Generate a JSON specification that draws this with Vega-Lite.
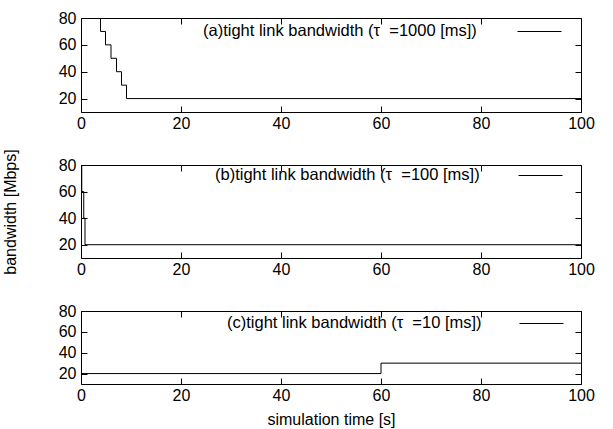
{
  "$schema": "https://vega.github.io/schema/vega-lite/v6.json",
  "padding": {"left": 1, "top": 9, "right": 5, "bottom": 0},
  "config": {
    "font": "Liberation Sans",
    "view": {"stroke": "#000", "strokeWidth": 1},
    "axis": {"labelFont": "Liberation Sans", "labelFontSize": 16, "labelColor": "#000", "titleFont": "Liberation Sans", "titleFontSize": 16, "titleFontWeight": "normal", "titleColor": "#000", "grid": false, "domain": false, "tickColor": "#000", "tickSize": -6, "labelFlush": false},
    "axisX": {"labelPadding": 9},
    "axisY": {"labelPadding": 11},
    "legend": {"padding": 0, "titleFont": "Liberation Sans", "titleFontSize": 16.5, "titleFontWeight": "normal", "titleColor": "#000", "titleOrient": "left", "titleAnchor": "middle", "titleBaseline": "middle", "titleLimit": 600, "symbolType": "M-11,0H11", "symbolSize": 16, "symbolStrokeWidth": 1, "symbolStrokeColor": "#000", "symbolFillColor": "transparent", "labelExpr": "''", "labelFontSize": 1, "labelOpacity": 0, "labelOffset": 0, "orient": "none"}
  },
  "datasets": {
    "bw": [
      {"panel": "a", "series": "a", "t": 0, "v": 110},
      {"panel": "a", "series": "a", "t": 3.9, "v": 70},
      {"panel": "a", "series": "a", "t": 4.9, "v": 60},
      {"panel": "a", "series": "a", "t": 6.0, "v": 50},
      {"panel": "a", "series": "a", "t": 7.1, "v": 40},
      {"panel": "a", "series": "a", "t": 8.1, "v": 30},
      {"panel": "a", "series": "a", "t": 9.1, "v": 20},
      {"panel": "a", "series": "a", "t": 100, "v": 20},
      {"panel": "b", "series": "b", "t": 0, "v": 110},
      {"panel": "b", "series": "b", "t": 0.15, "v": 60},
      {"panel": "b", "series": "b", "t": 0.55, "v": 40},
      {"panel": "b", "series": "b", "t": 0.8, "v": 20},
      {"panel": "b", "series": "b", "t": 100, "v": 20},
      {"panel": "c", "series": "c", "t": 0, "v": 20},
      {"panel": "c", "series": "c", "t": 60, "v": 30},
      {"panel": "c", "series": "c", "t": 100, "v": 30}
    ]
  },
  "vconcat": [
    {
      "width": 500, "height": 94,
      "data": {"name": "bw"},
      "transform": [{"filter": "datum.panel == 'a'"}],
      "layer": [
        {"mark": {"type": "line", "strokeWidth": 1, "interpolate": "step-after", "clip": true}, "encoding": {
          "x": {"field": "t", "type": "quantitative", "scale": {"domain": [0, 100], "nice": false}, "axis": {"values": [0, 20, 40, 60, 80, 100], "title": null, "orient": "bottom"}},
          "y": {"field": "v", "type": "quantitative", "scale": {"domain": [10, 80], "nice": false, "zero": false}, "axis": {"values": [20, 40, 60, 80], "title": null, "orient": "left"}},
          "color": {"field": "series", "type": "nominal", "scale": {"range": ["#000"]}, "legend": {"title": "(a)tight link bandwidth (τ\u00a0 =1000 [ms])", "legendX": 122, "legendY": 11, "titlePadding": 60}}
        }},
        {"mark": {"type": "line", "opacity": 0, "clip": true}, "encoding": {
          "x": {"field": "t", "type": "quantitative", "scale": {"domain": [0, 100], "nice": false}, "axis": {"values": [0, 20, 40, 60, 80, 100], "title": null, "orient": "top", "labels": false}},
          "y": {"field": "v", "type": "quantitative", "scale": {"domain": [10, 80], "nice": false, "zero": false}, "axis": {"values": [20, 40, 60, 80], "title": null, "orient": "right", "labels": false}}
        }}
      ],
      "resolve": {"axis": {"x": "independent", "y": "independent"}}
    },
    {
      "width": 500, "height": 93,
      "data": {"name": "bw"},
      "transform": [{"filter": "datum.panel == 'b'"}],
      "layer": [
        {"mark": {"type": "line", "strokeWidth": 1, "interpolate": "step-after", "clip": true}, "encoding": {
          "x": {"field": "t", "type": "quantitative", "scale": {"domain": [0, 100], "nice": false}, "axis": {"values": [0, 20, 40, 60, 80, 100], "title": null, "orient": "bottom"}},
          "y": {"field": "v", "type": "quantitative", "scale": {"domain": [10, 80], "nice": false, "zero": false}, "axis": {"values": [20, 40, 60, 80], "title": "bandwidth [Mbps]", "titlePadding": 40, "orient": "left"}},
          "color": {"field": "series", "type": "nominal", "scale": {"range": ["#000"]}, "legend": {"title": "(b)tight link bandwidth (τ\u00a0 =100 [ms])", "legendX": 134, "legendY": 8, "titlePadding": 58}}
        }},
        {"mark": {"type": "line", "opacity": 0, "clip": true}, "encoding": {
          "x": {"field": "t", "type": "quantitative", "scale": {"domain": [0, 100], "nice": false}, "axis": {"values": [0, 20, 40, 60, 80, 100], "title": null, "orient": "top", "labels": false}},
          "y": {"field": "v", "type": "quantitative", "scale": {"domain": [10, 80], "nice": false, "zero": false}, "axis": {"values": [20, 40, 60, 80], "title": null, "orient": "right", "labels": false}}
        }}
      ],
      "resolve": {"axis": {"x": "independent", "y": "independent"}}
    },
    {
      "width": 500, "height": 73,
      "data": {"name": "bw"},
      "transform": [{"filter": "datum.panel == 'c'"}],
      "layer": [
        {"mark": {"type": "line", "strokeWidth": 1, "interpolate": "step-after", "clip": true}, "encoding": {
          "x": {"field": "t", "type": "quantitative", "scale": {"domain": [0, 100], "nice": false}, "axis": {"values": [0, 20, 40, 60, 80, 100], "title": "simulation time [s]", "titlePadding": 8, "orient": "bottom"}},
          "y": {"field": "v", "type": "quantitative", "scale": {"domain": [10, 80], "nice": false, "zero": false}, "axis": {"values": [20, 40, 60, 80], "title": null, "orient": "left"}},
          "color": {"field": "series", "type": "nominal", "scale": {"range": ["#000"]}, "legend": {"title": "(c)tight link bandwidth (τ\u00a0 =10 [ms])", "legendX": 146, "legendY": 10, "titlePadding": 57}}
        }},
        {"mark": {"type": "line", "opacity": 0, "clip": true}, "encoding": {
          "x": {"field": "t", "type": "quantitative", "scale": {"domain": [0, 100], "nice": false}, "axis": {"values": [0, 20, 40, 60, 80, 100], "title": null, "orient": "top", "labels": false}},
          "y": {"field": "v", "type": "quantitative", "scale": {"domain": [10, 80], "nice": false, "zero": false}, "axis": {"values": [20, 40, 60, 80], "title": null, "orient": "right", "labels": false}}
        }}
      ],
      "resolve": {"axis": {"x": "independent", "y": "independent"}}
    }
  ],
  "spacing": 53,
  "bounds": "flush",
  "resolve": {"scale": {"color": "independent"}, "legend": {"color": "independent"}}
}
